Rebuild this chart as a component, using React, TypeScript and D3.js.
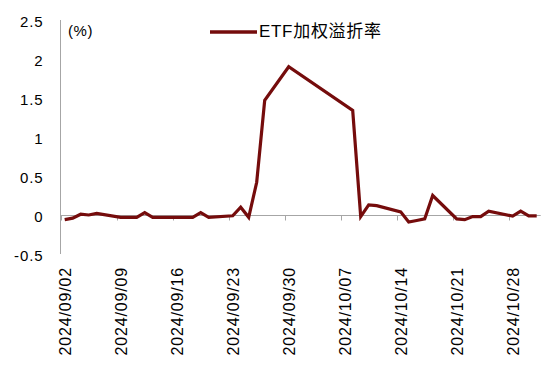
import React from "react";
import * as d3 from "d3";

const dates: string[] = [
  "2024-09-02", "2024-09-03", "2024-09-04", "2024-09-05", "2024-09-06",
  "2024-09-09", "2024-09-10", "2024-09-11", "2024-09-12", "2024-09-13",
  "2024-09-18", "2024-09-19", "2024-09-20",
  "2024-09-23", "2024-09-24", "2024-09-25", "2024-09-26", "2024-09-27",
  "2024-09-30",
  "2024-10-08", "2024-10-09", "2024-10-10", "2024-10-11",
  "2024-10-14", "2024-10-15", "2024-10-16", "2024-10-17", "2024-10-18",
  "2024-10-21", "2024-10-22", "2024-10-23", "2024-10-24", "2024-10-25",
  "2024-10-28", "2024-10-29", "2024-10-30", "2024-10-31",
];

const premium: number[] = [
  -0.06, -0.04, 0.01, 0.0, 0.02,
  -0.03, -0.03, -0.03, 0.03, -0.03,
  -0.03, 0.03, -0.03,
  -0.01, 0.1, -0.03, 0.42, 1.47,
  1.9,
  1.34, -0.02, 0.13, 0.12,
  0.04, -0.09, -0.07, -0.05, 0.25,
  -0.05, -0.06, -0.02, -0.02, 0.05,
  -0.015, 0.05, -0.01, -0.01,
];

const xTickLabels: string[] = [
  "2024/09/02", "2024/09/09", "2024/09/16", "2024/09/23", "2024/09/30",
  "2024/10/07", "2024/10/14", "2024/10/21", "2024/10/28",
];

const yTicks: number[] = [-0.5, 0, 0.5, 1, 1.5, 2, 2.5];

const seriesName = "ETF加权溢折率";
const unitLabel = "(%)";

const W = 550;
const H = 370;
const LINE_COLOR = "#750c0c";
const AXIS_COLOR = "#a6a6a6";
const FONT = "'Liberation Sans', Arial, 'Noto Sans CJK SC', sans-serif";

const parse = d3.utcParse("%Y-%m-%d");
const parseLabel = d3.utcParse("%Y/%m/%d");

export default function App() {
  const x = d3
    .scaleUtc()
    .domain([parse("2024-09-02")!, parse("2024-11-01")!])
    .range([60.7, 540.7]);
  const y = d3.scaleLinear().domain([-0.5, 2.5]).range([254, 20]);

  const halfDay = (dt: Date) => d3.utcHour.offset(dt, 12);

  const data = dates.map((d, i) => ({ date: parse(d)!, value: premium[i] }));
  const line = d3
    .line<{ date: Date; value: number }>()
    .x((d) => x(halfDay(d.date)))
    .y((d) => y(d.value));

  const zeroY = Math.round(y(0)) + 0.5;
  const axisX = 60.5;

  return (
    <svg
      width={W}
      height={H}
      style={{ position: "absolute", left: 0, top: 0, background: "#fff" }}
      fontFamily={FONT}
    >
      {/* y axis */}
      <line x1={axisX} x2={axisX} y1={y(2.5)} y2={y(-0.5)} stroke={AXIS_COLOR} strokeWidth={1} />
      {yTicks.map((t) => (
        <text
          key={t}
          x={43.5}
          y={y(t) + 1}
          textAnchor="end"
          dominantBaseline="central"
          fontSize={15}
          letterSpacing={0.9}
          fill="#000"
        >
          {String(t)}
        </text>
      ))}
      {/* x axis at zero */}
      <line x1={axisX} x2={x.range()[1]} y1={zeroY} y2={zeroY} stroke={AXIS_COLOR} strokeWidth={1} />
      {xTickLabels.map((lab) => {
        const dt = parseLabel(lab)!;
        const tx = Math.round(x(dt)) + 0.5;
        const lx = x(halfDay(dt));
        return (
          <g key={lab}>
            <line x1={tx} x2={tx} y1={zeroY} y2={zeroY + 5} stroke={AXIS_COLOR} strokeWidth={1} />
            <text
              transform={`translate(${lx + 0.5},267) rotate(-90)`}
              textAnchor="end"
              dominantBaseline="central"
              fontSize={16}
              letterSpacing={0.85}
              fill="#000"
            >
              {lab}
            </text>
          </g>
        );
      })}
      {/* series */}
      <path d={line(data) ?? ""} fill="none" stroke={LINE_COLOR} strokeWidth={3.2} strokeLinejoin="miter" />
      {/* unit label */}
      <text x={68} y={30} dominantBaseline="central" fontSize={15} letterSpacing={0.6} fill="#000">
        {unitLabel}
      </text>
      {/* legend */}
      <line x1={210} x2={257} y1={32} y2={32} stroke={LINE_COLOR} strokeWidth={3.5} />
      <text x={259} y={31} dominantBaseline="central" fontSize={17} letterSpacing={0.7} fill="#000">
        {seriesName}
      </text>
    </svg>
  );
}
